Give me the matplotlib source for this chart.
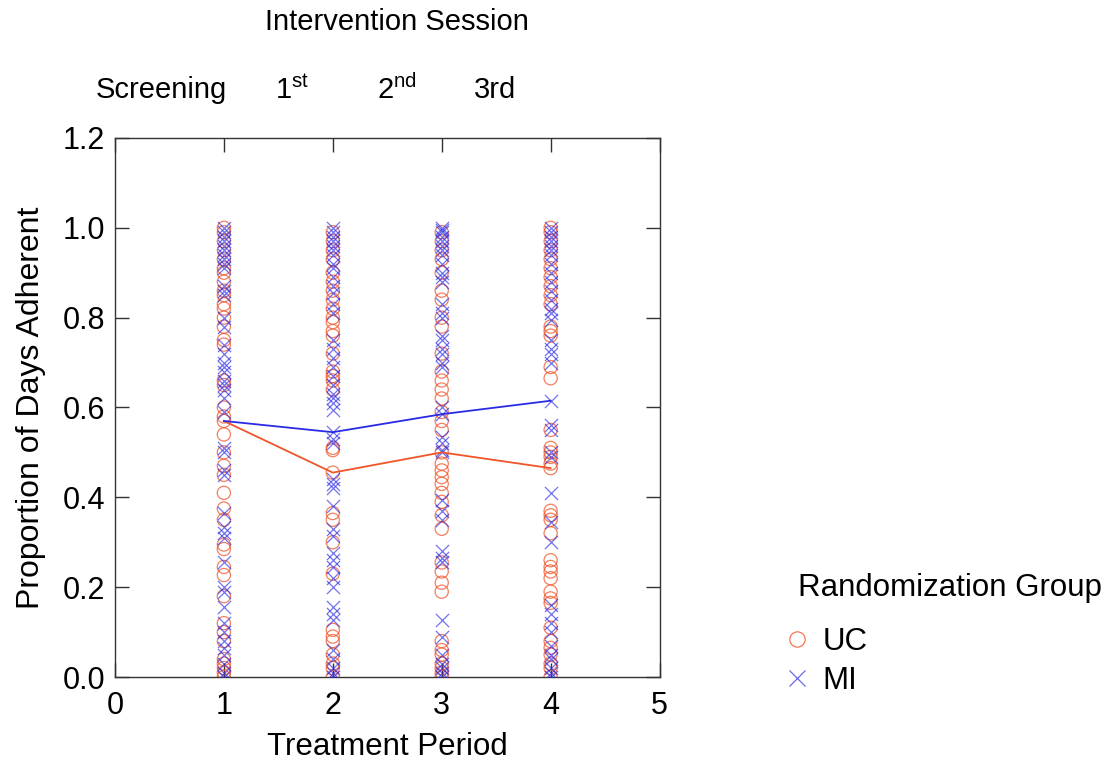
import matplotlib
matplotlib.use("Agg")
import matplotlib.pyplot as plt
from matplotlib.lines import Line2D

plt.rcParams['font.family'] = ['Liberation Sans', 'DejaVu Sans']

periods = [1, 2, 3, 4]
uc_mean = [0.57, 0.455, 0.50, 0.465]
mi_mean = [0.57, 0.545, 0.585, 0.615]

uc_p1 = [1.0, 0.99, 0.97, 0.95, 0.93, 0.91, 0.90, 0.88, 0.86, 0.85, 0.83, 0.82, 0.80, 0.78,
         0.75, 0.74, 0.66, 0.65, 0.60, 0.58, 0.57, 0.54, 0.50, 0.47, 0.45, 0.41, 0.375, 0.35,
         0.295, 0.285, 0.245, 0.227, 0.18, 0.12, 0.10, 0.08, 0.04, 0.03, 0.02, 0.01, 0.0]
mi_p1 = [1.0, 0.99, 0.98, 0.97, 0.96, 0.95, 0.94, 0.93, 0.92, 0.91, 0.87, 0.86, 0.85, 0.80,
         0.78, 0.74, 0.72, 0.70, 0.69, 0.68, 0.66, 0.65, 0.64, 0.62, 0.59, 0.51, 0.50, 0.46,
         0.45, 0.365, 0.335, 0.32, 0.31, 0.256, 0.20, 0.19, 0.157, 0.12, 0.10, 0.08, 0.065,
         0.05, 0.03, 0.01, 0.0]

uc_p2 = [0.99, 0.97, 0.95, 0.93, 0.90, 0.88, 0.86, 0.84, 0.82, 0.80, 0.79, 0.77, 0.76,
         0.72, 0.68, 0.67, 0.66, 0.64, 0.51, 0.505, 0.455, 0.365, 0.35, 0.30, 0.23, 0.105,
         0.09, 0.08, 0.05, 0.03, 0.02, 0.0]
mi_p2 = [1.0, 0.99, 0.98, 0.97, 0.96, 0.95, 0.94, 0.92, 0.91, 0.89, 0.87, 0.855, 0.83,
         0.81, 0.75, 0.73, 0.71, 0.69, 0.67, 0.65, 0.63, 0.62, 0.61, 0.595, 0.545, 0.53, 0.52,
         0.44, 0.43, 0.42, 0.38, 0.33, 0.315, 0.275, 0.26, 0.245, 0.22, 0.20, 0.155, 0.14,
         0.127, 0.06, 0.04, 0.02, 0.01, 0.0]

uc_p3 = [0.99, 0.97, 0.95, 0.93, 0.90, 0.86, 0.84, 0.80, 0.78, 0.72, 0.68, 0.66, 0.64,
         0.62, 0.59, 0.57, 0.55, 0.50, 0.475, 0.46, 0.445, 0.43, 0.41, 0.39, 0.36, 0.33,
         0.255, 0.235, 0.21, 0.19, 0.08, 0.06, 0.05, 0.03, 0.02, 0.01, 0.0]
mi_p3 = [1.0, 0.995, 0.99, 0.98, 0.97, 0.96, 0.95, 0.94, 0.92, 0.90, 0.89, 0.88, 0.83,
         0.81, 0.80, 0.76, 0.75, 0.73, 0.72, 0.70, 0.69, 0.60, 0.585, 0.535, 0.52, 0.505,
         0.50, 0.395, 0.37, 0.35, 0.28, 0.265, 0.255, 0.127, 0.09, 0.05, 0.03, 0.02, 0.01,
         0.0]

uc_p4 = [1.0, 0.99, 0.97, 0.95, 0.93, 0.91, 0.89, 0.87, 0.85, 0.83, 0.78, 0.77, 0.76,
         0.69, 0.665, 0.55, 0.51, 0.50, 0.49, 0.475, 0.465, 0.37, 0.36, 0.35, 0.32, 0.26,
         0.245, 0.235, 0.22, 0.19, 0.175, 0.165, 0.11, 0.08, 0.065, 0.05, 0.03, 0.02, 0.0]
mi_p4 = [1.0, 0.99, 0.98, 0.97, 0.96, 0.95, 0.94, 0.92, 0.90, 0.88, 0.86, 0.84, 0.82,
         0.81, 0.795, 0.75, 0.73, 0.72, 0.70, 0.615, 0.56, 0.55, 0.50, 0.49, 0.41, 0.345,
         0.30, 0.16, 0.14, 0.12, 0.10, 0.07, 0.05, 0.04, 0.02, 0.01, 0.0]

uc_points = [uc_p1, uc_p2, uc_p3, uc_p4]
mi_points = [mi_p1, mi_p2, mi_p3, mi_p4]

x_ticks = [0, 1, 2, 3, 4, 5]
y_ticks = [0.0, 0.2, 0.4, 0.6, 0.8, 1.0, 1.2]
session_labels = ["Screening", "1$^{\\mathregular{st}}$", "2$^{\\mathregular{nd}}$", "3rd"]

UC_COLOR = '#F0552A'
MI_COLOR = '#2A2AE6'

fig = plt.figure(figsize=(11.16, 7.62), dpi=100)
ax = fig.add_axes([0.103, 0.1115, 0.488, 0.7075])

for p, vals in zip(periods, uc_points):
    ax.scatter([p] * len(vals), vals, s=90, facecolors='none', edgecolors=UC_COLOR,
               linewidths=0.9, alpha=0.75, zorder=2)
for p, vals in zip(periods, mi_points):
    ax.scatter([p] * len(vals), vals, s=90, marker='x', color=MI_COLOR,
               linewidths=0.9, alpha=0.65, zorder=3)

ax.plot(periods, uc_mean, color=UC_COLOR, lw=1.3, zorder=4)
ax.plot(periods, mi_mean, color=MI_COLOR, lw=1.3, zorder=4)

ax.set_xlim(0, 5)
ax.set_ylim(0, 1.2)
ax.set_xticks(x_ticks)
ax.set_yticks(y_ticks)
ax.set_xticklabels([str(t) for t in x_ticks])
ax.set_yticklabels([f"{t:.1f}" for t in y_ticks])
ax.tick_params(direction='in', length=10, width=1, top=True, right=True,
               labelsize=22, colors='#333333', labelcolor='black')
ax.tick_params(axis='x', pad=10)
ax.tick_params(axis='y', pad=7)
for spine in ax.spines.values():
    spine.set_color('#333333')
    spine.set_linewidth(1.0)

ax.set_xlabel("Treatment Period", fontsize=22.5, labelpad=8)
ax.set_ylabel("Proportion of Days Adherent", fontsize=23, labelpad=12)

fig.text(397 / 1116, 1 - 22 / 762, "Intervention Session", fontsize=21,
         ha='center', va='center')
sess_x = [161, 292, 397, 495]
for sx, lab in zip(sess_x, session_labels):
    fig.text(sx / 1116, 1 - 90 / 762, lab, fontsize=21, ha='center', va='center')

fig.text(798 / 1116, 1 - 588 / 762, "Randomization Group", fontsize=22.5,
         ha='left', va='center')
handles = [Line2D([], [], marker='o', ls='none', markerfacecolor='none',
                  markeredgecolor=UC_COLOR, markersize=11, markeredgewidth=0.9, alpha=0.8),
           Line2D([], [], marker='x', ls='none', color=MI_COLOR, markersize=11,
                  markeredgewidth=0.9, alpha=0.7)]
fig.legend(handles, ["UC", "MI"], loc='upper left',
           bbox_to_anchor=(766 / 1116, 1 - 614 / 762), frameon=False, fontsize=22.5,
           handletextpad=0.2, labelspacing=0.3, handlelength=1.2, borderaxespad=0)

fig.savefig("out.png", dpi=100)
